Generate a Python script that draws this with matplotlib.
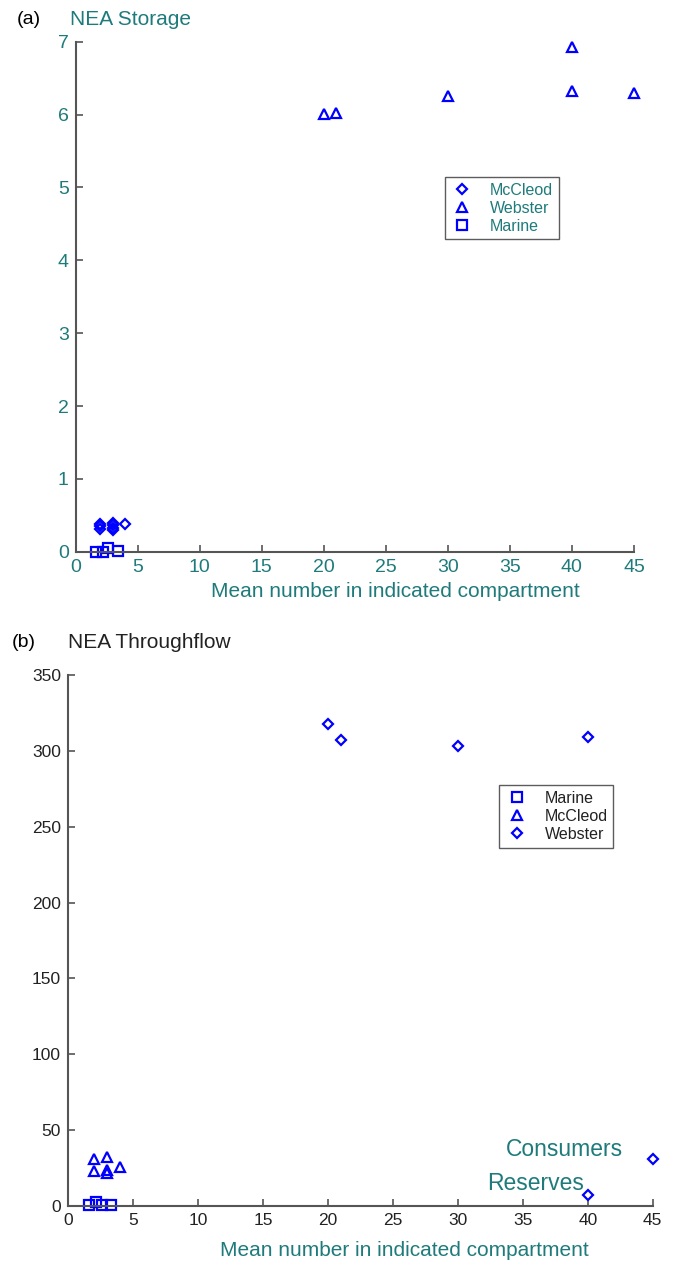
import matplotlib
matplotlib.use("Agg")
import matplotlib.pyplot as plt
from matplotlib.lines import Line2D

plt.rcParams['font.family'] = ['Liberation Sans', 'DejaVu Sans']

TEAL = '#1f7b7b'
BLUE = '#0000ff'
AXC = '#555555'

# (a) NEA Storage
a_mccleod_x = [2, 2, 2, 3, 3, 3, 3, 4]
a_mccleod_y = [0.38, 0.35, 0.31, 0.40, 0.37, 0.33, 0.30, 0.38]
a_webster_x = [20, 21, 30, 40, 40, 45]
a_webster_y = [6.01, 6.02, 6.25, 6.93, 6.32, 6.30]
a_marine_x = [1.65, 2.2, 2.6, 3.4]
a_marine_y = [0.0, 0.0, 0.05, 0.01]

# (b) NEA Throughflow
b_marine_x = [1.65, 2.15, 2.6, 3.3]
b_marine_y = [0.5, 2.5, 1.0, 1.0]
b_mccleod_x = [2, 3, 2, 3, 3, 4]
b_mccleod_y = [31, 32.5, 23, 22, 23.5, 25.5]
b_webster_x = [20, 21, 30, 40, 40, 45]
b_webster_y = [318, 307, 303, 309, 7, 31]

xticks = [0, 5, 10, 15, 20, 25, 30, 35, 40, 45]

fig = plt.figure(figsize=(6.8, 12.78), dpi=100)

mk = dict(linestyle='none', markerfacecolor='none', markeredgecolor=BLUE,
          markeredgewidth=1.6, clip_on=False)
DS, TS, SS = 5, 7, 7


def style(ax, labcol, size):
    for s in ['top', 'right']:
        ax.spines[s].set_visible(False)
    for s in ['left', 'bottom']:
        ax.spines[s].set_color(AXC)
        ax.spines[s].set_linewidth(1.5)
    ax.tick_params(direction='in', length=5, width=1.2, color=AXC,
                   labelcolor=labcol, labelsize=size, pad=5)
    ax.set_xlim(0, 45)
    ax.set_xticks(xticks)


# ---- panel (a)
ax1 = fig.add_axes([0.1113, 0.5683, 0.821, 0.399])
ax1.plot(a_mccleod_x, a_mccleod_y, marker='D', markersize=DS, **mk)
ax1.plot(a_webster_x, a_webster_y, marker='^', markersize=TS, **mk)
ax1.plot(a_marine_x, a_marine_y, marker='s', markersize=SS, **mk)
ax1.set_ylim(0, 7)
ax1.set_yticks(range(8))
style(ax1, TEAL, 14)
ax1.set_xlabel('Mean number in indicated compartment', color=TEAL,
               fontsize=15)
ax1.xaxis.label.set_va('center')
ax1.xaxis.set_label_coords(0.572, -0.079)

h1 = [Line2D([], [], marker='D', markersize=DS, **mk),
      Line2D([], [], marker='^', markersize=TS, **mk),
      Line2D([], [], marker='s', markersize=SS, **mk)]
leg1 = ax1.legend(h1, ['McCleod', 'Webster', 'Marine'], loc='upper left',
                  bbox_to_anchor=(0.661, 0.735), fontsize=11.5, frameon=True,
                  fancybox=False, edgecolor='#333333', handlelength=1.5,
                  handletextpad=1.0, labelspacing=0.2, borderpad=0.35,
                  borderaxespad=0)
for t in leg1.get_texts():
    t.set_color(TEAL)
leg1.get_frame().set_linewidth(1.0)

fig.text(0.024, 0.9844, '(a)', fontsize=14, color='black', va='center')
fig.text(0.103, 0.9844, 'NEA Storage', fontsize=15, color=TEAL, va='center')

# ---- panel (b)
ax2 = fig.add_axes([0.1, 0.0563, 0.860, 0.4155])
ax2.plot(b_marine_x, b_marine_y, marker='s', markersize=SS, **mk)
ax2.plot(b_mccleod_x, b_mccleod_y, marker='^', markersize=TS, **mk)
ax2.plot(b_webster_x, b_webster_y, marker='D', markersize=DS, **mk)
ax2.set_ylim(0, 350)
ax2.set_yticks(range(0, 351, 50))
style(ax2, '#222222', 12.5)
ax2.set_xlabel('Mean number in indicated compartment', color=TEAL,
               fontsize=15)
ax2.xaxis.label.set_va('center')
ax2.xaxis.set_label_coords(0.576, -0.083)

h2 = [Line2D([], [], marker='s', markersize=SS, **mk),
      Line2D([], [], marker='^', markersize=TS, **mk),
      Line2D([], [], marker='D', markersize=DS, **mk)]
leg2 = ax2.legend(h2, ['Marine', 'McCleod', 'Webster'], loc='upper left',
                  bbox_to_anchor=(0.737, 0.793), fontsize=11.5, frameon=True,
                  fancybox=False, edgecolor='#333333', handlelength=1.5,
                  handletextpad=1.0, labelspacing=0.2, borderpad=0.35,
                  borderaxespad=0)
for t in leg2.get_texts():
    t.set_color('#222222')
leg2.get_frame().set_linewidth(1.0)

ax2.text(38.2, 37, 'Consumers', fontsize=16.5, color=TEAL, ha='center',
         va='center')
ax2.text(36.0, 15, 'Reserves', fontsize=16.5, color=TEAL, ha='center',
         va='center')

fig.text(0.018, 0.497, '(b)', fontsize=14, color='black', va='center')
fig.text(0.1, 0.497, 'NEA Throughflow', fontsize=15, color='#222222',
         va='center')

fig.savefig('out.png', dpi=100)
